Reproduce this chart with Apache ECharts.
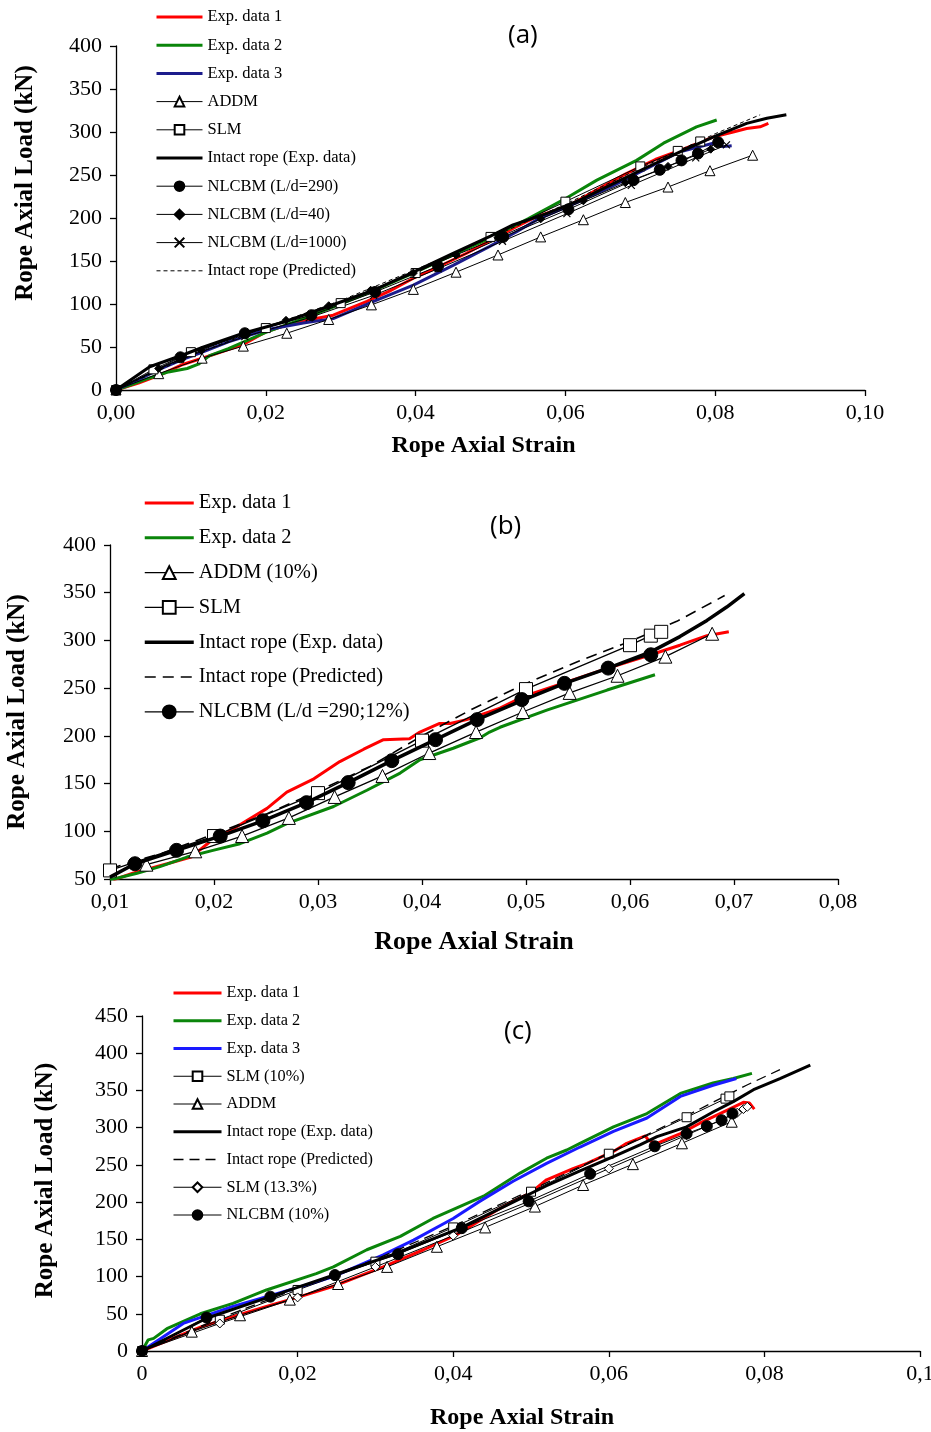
<!DOCTYPE html>
<html><head><meta charset="utf-8">
<script src="https://cdn.jsdelivr.net/npm/echarts@6/dist/echarts.min.js"></script>
<style>html,body{margin:0;padding:0;background:#fff}#c{width:931px;height:1432px}</style>
</head><body><div id="c"></div>
<script>
// ---------- Panel (a) data: [strain, load kN] ----------
const A_EXP1 = [[0,0],[0.003,8],[0.006,18],[0.009,30],[0.0112,36],[0.014,44],[0.017,53],[0.0201,68],[0.023,76],[0.026,82],[0.029,87],[0.0335,103],[0.0365,115],[0.0397,130],[0.043,143],[0.0468,159],[0.05,174],[0.053,188],[0.056,201],[0.0606,215],[0.064,232],[0.068,251],[0.072,268],[0.076,281],[0.0797,294],[0.0824,300],[0.0842,304],[0.086,306],[0.0871,310]];
const A_EXP2 = [[0,0],[0.002,6],[0.0045,14],[0.007,21],[0.0095,25],[0.011,30],[0.0125,40],[0.015,48],[0.02,67],[0.025,83],[0.03,100],[0.035,118],[0.04,137],[0.045,157],[0.05,177],[0.055,199],[0.0597,221],[0.0642,244],[0.0695,267],[0.0731,287],[0.0775,306],[0.0802,314]];
const A_EXP3 = [[0,0],[0.003,12],[0.006,25],[0.009,36],[0.0112,43],[0.015,56],[0.0201,70],[0.025,78],[0.029,83],[0.0344,103],[0.0397,122],[0.045,145],[0.0499,167],[0.0535,184],[0.0562,198],[0.0615,218],[0.066,236],[0.0705,256],[0.0753,277],[0.078,283],[0.0797,287],[0.081,283],[0.0822,284]];
const A_ADDM_X = [0,0.0057,0.0115,0.017,0.0228,0.0284,0.0341,0.0397,0.0454,0.051,0.0567,0.0624,0.068,0.0737,0.0793,0.085];
const A_ADDM_Y = [0,19,37,51,66,82,99,117,137,157,178,198,218,236,255,273];
const A_SLM_X = [0,0.005,0.01,0.02,0.03,0.04,0.05,0.06,0.07,0.075,0.078];
const A_SLM_Y = [0,24,44,72,101,136,178,219,260,278,289];
const A_INTACT = [[0,0],[0.0045,27],[0.009,41],[0.0117,50],[0.017,66],[0.0228,80],[0.0286,98],[0.0344,116],[0.0397,137],[0.045,159],[0.05,179],[0.053,192],[0.0575,205],[0.062,221],[0.0664,240],[0.0709,259],[0.0753,277],[0.0797,294],[0.0842,310],[0.0869,316],[0.0895,320]];
const A_N290_X = [0,0.0086,0.0172,0.0261,0.0346,0.043,0.0517,0.0604,0.0691,0.0726,0.0755,0.0777,0.0804];
const A_N290_Y = [0,38,66,87,114,144,178,210,244,256,267,275,288];
const A_N40_X = [0,0.0057,0.0114,0.017,0.0227,0.0284,0.034,0.0397,0.0454,0.051,0.0567,0.0624,0.068,0.0737,0.0794];
const A_N40_Y = [0,25,46,66,81,98,116,136,157,177,199,220,241,260,280];
const A_N1000_X = [0,0.0086,0.0172,0.0258,0.0344,0.043,0.0516,0.0602,0.0688,0.0774,0.0815];
const A_N1000_Y = [0,36,62,84,110,141,173,205,238,270,285];
const A_PRED = [[0,0],[0.01,40],[0.02,73],[0.03,104],[0.04,140],[0.05,177],[0.06,216],[0.07,258],[0.08,298],[0.086,320]];

// ---------- Panel (b) data ----------
const B_EXP1 = [[0.0103,49],[0.0122,56],[0.0155,66],[0.0178,73],[0.0196,89],[0.0219,103],[0.0251,124],[0.027,141],[0.0296,155],[0.0321,173],[0.0344,186],[0.0363,196],[0.0388,197],[0.0398,204],[0.0417,213],[0.0427,213],[0.0443,217],[0.0475,229],[0.0497,241],[0.0538,256],[0.0579,271],[0.062,285],[0.0648,295],[0.0674,305],[0.0695,309]];
const B_EXP2 = [[0.01,49],[0.0126,56],[0.0148,63],[0.0174,73],[0.0199,80],[0.0225,87],[0.0251,98],[0.027,108],[0.0315,126],[0.0347,143],[0.0379,161],[0.0398,175],[0.043,187],[0.0456,198],[0.0465,204],[0.0475,209],[0.052,227],[0.0578,248],[0.0624,264]];
const B_ADDM_X = [0.0135,0.0182,0.0227,0.0272,0.0316,0.0362,0.0407,0.0452,0.0497,0.0542,0.0588,0.0634,0.0679];
const B_ADDM_Y = [65,79,95,114,136,158,182,204,225,245,263,283,307];
const B_SLM_X = [0.01,0.02,0.03,0.04,0.05,0.06,0.062,0.063];
const B_SLM_Y = [59,95,140,195,249,295,305,309];
const B_INTACT = [[0.01,52],[0.0124,66],[0.0164,80],[0.0206,95],[0.0247,111],[0.0289,130],[0.0329,151],[0.0371,174],[0.0413,196],[0.0453,217],[0.0496,237],[0.0537,255],[0.0579,271],[0.062,288],[0.0648,304],[0.0674,321],[0.0693,335],[0.071,349]];
const B_PRED = [[0.01,61],[0.015,77],[0.02,97],[0.025,118],[0.03,142],[0.035,168],[0.04,200],[0.045,229],[0.05,255],[0.055,278],[0.06,299],[0.0645,320],[0.0691,347]];
const B_NLCBM_X = [0.0124,0.0164,0.0206,0.0247,0.0289,0.0329,0.0371,0.0413,0.0453,0.0496,0.0537,0.0579,0.062];
const B_NLCBM_Y = [66,80,95,111,130,151,174,196,217,238,255,271,285];

// ---------- Panel (c) data ----------
const C_EXP1 = [[0,0],[0.0075,32],[0.012,47],[0.016,60],[0.02,72],[0.0246,87],[0.031,113],[0.0362,136],[0.0404,156],[0.0456,189],[0.0477,201],[0.0499,212],[0.052,230],[0.0554,245],[0.0572,252],[0.0606,268],[0.0623,279],[0.0647,289],[0.0651,283],[0.0662,279],[0.0692,292],[0.0717,306],[0.0745,320],[0.0773,334],[0.0781,333],[0.0787,325]];
const C_EXP2 = [[0,0],[0.0008,15],[0.0015,17],[0.0032,30],[0.0075,50],[0.0117,64],[0.016,82],[0.0224,104],[0.0246,113],[0.0289,136],[0.0332,154],[0.0374,178],[0.0439,208],[0.0486,239],[0.052,259],[0.0546,270],[0.0563,279],[0.0606,301],[0.0649,319],[0.0692,346],[0.0734,360],[0.076,366],[0.0784,373]];
const C_EXP3 = [[0,0],[0.0053,37],[0.0117,60],[0.0203,86],[0.0246,100],[0.031,129],[0.0349,149],[0.04,178],[0.0434,201],[0.0477,228],[0.052,252],[0.0563,274],[0.0606,295],[0.0649,313],[0.0692,342],[0.0734,357],[0.0764,366]];
const C_SLM10_X = [0,0.01,0.02,0.03,0.04,0.05,0.06,0.07,0.075,0.0755];
const C_SLM10_Y = [0,42,82,120,166,214,265,314,339,342];
const C_ADDM_X = [0,0.0064,0.0126,0.019,0.0252,0.0315,0.0379,0.0441,0.0505,0.0567,0.0631,0.0694,0.0758];
const C_ADDM_Y = [0,26,48,69,90,113,140,166,194,223,251,279,308];
const C_INTACT = [[0,0],[0.0083,44],[0.0165,73],[0.0246,102],[0.0327,131],[0.0409,165],[0.0477,200],[0.052,222],[0.0563,242],[0.0606,261],[0.064,277],[0.0662,288],[0.07,301],[0.0734,321],[0.076,335],[0.0786,351],[0.082,366],[0.0859,384]];
const C_PRED = [[0,0],[0.01,44],[0.02,84],[0.03,123],[0.04,168],[0.05,216],[0.06,266],[0.07,316],[0.0777,357],[0.082,378]];
const C_SLM133_X = [0,0.01,0.02,0.03,0.04,0.05,0.06,0.07,0.0765,0.0773,0.0778];
const C_SLM133_Y = [0,37,72,113,155,199,245,290,320,325,328];
const C_NLCBM_X = [0,0.0083,0.0165,0.0248,0.0329,0.0411,0.0497,0.0576,0.0659,0.07,0.0726,0.0745,0.0759];
const C_NLCBM_Y = [0,45,73,102,130,165,201,238,275,292,302,310,319];

// ---------- tick labels / names ----------
const LEGEND_A = ['Exp. data 1','Exp. data 2','Exp. data 3','ADDM','SLM','Intact rope (Exp. data)','NLCBM (L/d=290)','NLCBM (L/d=40)','NLCBM (L/d=1000)','Intact rope (Predicted)'];
const LEGEND_B = ['Exp. data 1','Exp. data 2','ADDM (10%)','SLM','Intact rope (Exp. data)','Intact rope (Predicted)','NLCBM (L/d =290;12%)'];
const LEGEND_C = ['Exp. data 1','Exp. data 2','Exp. data 3','SLM (10%)','ADDM','Intact rope (Exp. data)','Intact rope (Predicted)','SLM (13.3%)','NLCBM (10%)'];
const X_TITLE = 'Rope Axial Strain';
const Y_TITLE = 'Rope Axial Load (kN)';
const PANEL_TAGS = ['(a)','(b)','(c)'];

const zip = (xs, ys) => xs.map((x, i) => [x, ys[i]]);
const SERIF = 'Liberation Serif';
const PANELS = ['a','b','c'];

function ser(p, name, data, o) {
  o = o || {};
  const i = PANELS.indexOf(p);
  return {
    type: 'line', name: p + '|' + name, xAxisIndex: i, yAxisIndex: i, data: data,
    symbol: o.symbol || 'none', symbolSize: o.size || 8, showSymbol: !!o.symbol,
    color: o.color || '#000',
    lineStyle: { color: o.color || '#000', width: o.width || 1, type: o.dash || 'solid' },
    itemStyle: { color: o.fill || '#000', borderColor: '#000', borderWidth: o.bw == null ? 1 : o.bw },
    z: o.z || 3, silent: true, clip: true
  };
}
const RED = '#ff0000', GREEN = '#0a850a', NAVY = '#1c1c8c', BLUE = '#1a1aff';
const CROSS = 'path://M0,0L10,10M10,0L0,10';

const series = [
  ser('a','Exp. data 1',A_EXP1,{color:RED,width:3}),
  ser('a','Exp. data 2',A_EXP2,{color:GREEN,width:3}),
  ser('a','Exp. data 3',A_EXP3,{color:NAVY,width:3}),
  ser('a','ADDM',zip(A_ADDM_X,A_ADDM_Y),{symbol:'triangle',size:10,fill:'#fff'}),
  ser('a','SLM',zip(A_SLM_X,A_SLM_Y),{symbol:'rect',size:9,fill:'#fff'}),
  ser('a','NLCBM (L/d=290)',zip(A_N290_X,A_N290_Y),{symbol:'circle',size:11}),
  ser('a','NLCBM (L/d=40)',zip(A_N40_X,A_N40_Y),{symbol:'diamond',size:8}),
  ser('a','NLCBM (L/d=1000)',zip(A_N1000_X,A_N1000_Y),{symbol:CROSS,size:7,bw:1.2}),
  ser('a','Intact rope (Predicted)',A_PRED,{dash:[4,3],width:1}),
  ser('a','Intact rope (Exp. data)',A_INTACT,{width:3,z:4}),

  ser('b','Exp. data 1',B_EXP1,{color:RED,width:3}),
  ser('b','Exp. data 2',B_EXP2,{color:GREEN,width:3}),
  ser('b','ADDM (10%)',zip(B_ADDM_X,B_ADDM_Y),{symbol:'triangle',size:13,fill:'#fff',width:1.3}),
  ser('b','SLM',zip(B_SLM_X,B_SLM_Y),{symbol:'rect',size:13,fill:'#fff',width:1.3}),
  ser('b','Intact rope (Predicted)',B_PRED,{dash:[11,7],width:1.6}),
  ser('b','Intact rope (Exp. data)',B_INTACT,{width:3.5,z:4}),
  ser('b','NLCBM (L/d =290;12%)',zip(B_NLCBM_X,B_NLCBM_Y),{symbol:'circle',size:14,width:1.3,z:5}),

  ser('c','Exp. data 1',C_EXP1,{color:RED,width:3}),
  ser('c','Exp. data 2',C_EXP2,{color:GREEN,width:3}),
  ser('c','Exp. data 3',C_EXP3,{color:BLUE,width:3}),
  ser('c','SLM (10%)',zip(C_SLM10_X,C_SLM10_Y),{symbol:'rect',size:9,fill:'#fff'}),
  ser('c','ADDM',zip(C_ADDM_X,C_ADDM_Y),{symbol:'triangle',size:11,fill:'#fff'}),
  ser('c','Intact rope (Predicted)',C_PRED,{dash:[10,6],width:1.3}),
  ser('c','SLM (13.3%)',zip(C_SLM133_X,C_SLM133_Y),{symbol:'diamond',size:9,fill:'#fff'}),
  ser('c','NLCBM (10%)',zip(C_NLCBM_X,C_NLCBM_Y),{symbol:'circle',size:11}),
  ser('c','Intact rope (Exp. data)',C_INTACT,{width:3,z:4})
];

const noSymbol = { color: 'rgba(0,0,0,0)', borderColor: 'rgba(0,0,0,0)', borderWidth: 0, opacity: 0 };
function legendData(p, names) {
  return names.map(n => n.indexOf('Exp. data ') === 0 || n.indexOf('Intact rope') === 0
    ? { name: p + '|' + n, itemStyle: noSymbol }
    : { name: p + '|' + n });
}
function legend(p, names, left, top, w, h, gap, fs, lh) {
  return {
    data: legendData(p, names), orient: 'vertical', left: left, top: top, padding: 0,
    itemWidth: w, itemHeight: h, itemGap: gap, selectedMode: false,
    lineStyle: { width: 'inherit' },
    formatter: n => n.split('|')[1],
    textStyle: { fontFamily: SERIF, fontSize: fs, color: '#000', lineHeight: lh, padding: [0,0,0,0] }
  };
}

const fmtFixed = v => v.toFixed(2).replace('.', ',');
const fmtShort = v => (v === 0 ? '0' : String(Number(v.toFixed(2))).replace('.', ','));

function xAxis(i, min, max, interval, fmt, gap, fs, pad) {
  return {
    gridIndex: i, type: 'value', min: min, max: max, interval: interval,
    name: X_TITLE, nameLocation: 'middle', nameGap: gap,
    nameTextStyle: { fontFamily: SERIF, fontWeight: 'bold', fontSize: fs, color: '#000', padding: pad },
    axisLine: { show: true, lineStyle: { color: '#000', width: 1.3 } },
    axisTick: { show: true, inside: false, length: 6, lineStyle: { color: '#000', width: 1.3 } },
    axisLabel: { formatter: fmt, fontFamily: SERIF, fontSize: 22, color: '#000', margin: 12 },
    splitLine: { show: false }
  };
}
function yAxis(i, min, max, gap, fs, pad) {
  return {
    gridIndex: i, type: 'value', min: min, max: max, interval: 50,
    name: Y_TITLE, nameLocation: 'middle', nameGap: gap, nameRotate: 90,
    nameTextStyle: { fontFamily: SERIF, fontWeight: 'bold', fontSize: fs, color: '#000', padding: pad },
    axisLine: { show: true, lineStyle: { color: '#000', width: 1.3 } },
    axisTick: { show: true, inside: false, length: 6, lineStyle: { color: '#000', width: 1.3 } },
    axisLabel: { fontFamily: SERIF, fontSize: 22, color: '#000', margin: 14 },
    splitLine: { show: false }
  };
}

const chart = echarts.init(document.getElementById('c'), null, { renderer: 'canvas' });
chart.setOption({
  animation: false,
  backgroundColor: '#fff',
  grid: [
    { left: 116, top: 46, width: 749, height: 344, containLabel: false, outerBoundsMode: 'none' },
    { left: 110, top: 545, width: 728, height: 334, containLabel: false, outerBoundsMode: 'none' },
    { left: 142, top: 1016, width: 778, height: 335, containLabel: false, outerBoundsMode: 'none' }
  ],
  xAxis: [
    xAxis(0, 0, 0.1, 0.02, fmtFixed, 44, 24, [0, 14, 0, 0]),
    xAxis(1, 0.01, 0.08, 0.01, fmtFixed, 50, 26, [0, 0, 0, 0]),
    xAxis(2, 0, 0.1, 0.02, fmtShort, 55, 24, [0, 18, 0, 0])
  ],
  yAxis: [
    yAxis(0, 0, 400, 78, 25, [0, 0, 0, 70]),
    yAxis(1, 50, 400, 80, 25, [0, 0, 0, 0]),
    yAxis(2, 0, 450, 84, 25, [0, 0, 0, 6])
  ],
  legend: [
    legend('a', LEGEND_A, 155, 8, 46, 12, 10.2, 16.5, 18),
    legend('b', LEGEND_B, 143, 492, 49, 16, 12.8, 20.5, 22),
    legend('c', LEGEND_C, 172, 984, 48, 12, 9.75, 16.3, 18)
  ],
  graphic: [
    { type: 'text', left: 508, top: 23, style: { text: PANEL_TAGS[0], font: '26px "Open Sans"', fill: '#000' } },
    { type: 'text', left: 490, top: 514, style: { text: PANEL_TAGS[1], font: '26px "Open Sans"', fill: '#000' } },
    { type: 'text', left: 504, top: 1019, style: { text: PANEL_TAGS[2], font: '26px "Open Sans"', fill: '#000' } }
  ],
  series: series
});
</script></body></html>
